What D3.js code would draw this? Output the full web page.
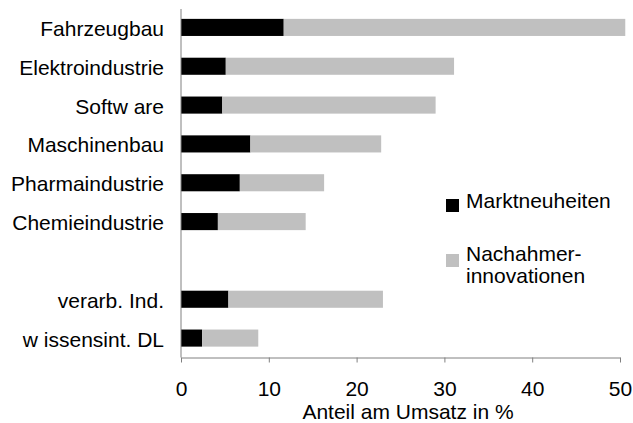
<!DOCTYPE html>
<html>
<head>
<meta charset="utf-8">
<script src="https://cdn.jsdelivr.net/npm/d3@7"></script>
<style>
  html, body { margin: 0; padding: 0; background: #fff; }
  svg { display: block; font-family: "Liberation Sans", Arial, sans-serif; }
</style>
</head>
<body>
<svg id="chart" width="633" height="423"></svg>
<script>
const categories = ["Fahrzeugbau", "Elektroindustrie", "Softw are", "Maschinenbau", "Pharmaindustrie", "Chemieindustrie", "", "verarb. Ind.", "w issensint. DL"];
const marktneuheiten = [11.7, 5.1, 4.7, 7.9, 6.7, 4.2, 0, 5.4, 2.4];
const nachahmer = [38.9, 26.0, 24.3, 14.9, 9.6, 10.0, 0, 17.6, 6.4];
const xTicks = [0, 10, 20, 30, 40, 50];
const seriesNames = ["Marktneuheiten", "Nachahmer-innovationen"];
const xTitle = "Anteil am Umsatz in %";

const svg = d3.select("#chart");
const mLeft = 181, mRight = 620, mTop = 8, mBottom = 357.5;
const fontSize = 21;

const x = d3.scaleLinear().domain([0, 50]).range([mLeft, mRight]);
const y = d3.scaleBand().domain(d3.range(categories.length)).range([mTop, mBottom]).paddingInner(0.56).paddingOuter(0.28);
const color = d3.scaleOrdinal().domain(seriesNames).range(["#000000", "#c0c0c0"]);

const rows = categories.map((c, i) => ({ i, m: marktneuheiten[i], n: nachahmer[i] }));
const stack = d3.stack().keys(["m", "n"])(rows);

svg.append("g").selectAll("g").data(stack).join("g")
  .attr("fill", (d, k) => color(seriesNames[k]))
  .selectAll("rect").data(d => d).join("rect")
  .attr("x", d => x(d[0]))
  .attr("width", d => x(d[1]) - x(d[0]))
  .attr("y", d => y(d.data.i))
  .attr("height", y.bandwidth());

// Category labels
svg.append("g").selectAll("text").data(categories).join("text")
  .attr("x", 164)
  .attr("y", (d, i) => y(i) + y.bandwidth() / 2 + 8.5)
  .attr("text-anchor", "end")
  .attr("font-size", fontSize)
  .attr("fill", "#000")
  .text(d => d);

// Axes
const xAxis = d3.axisBottom(x).tickValues(xTicks).tickSize(5).tickSizeOuter(0).tickFormat(d3.format("d"));
const gx = svg.append("g").attr("transform", `translate(0,${mBottom})`).call(xAxis);
gx.select(".domain").attr("stroke", "#808080");
gx.selectAll(".tick line").attr("stroke", "#808080");
gx.selectAll(".tick text").attr("font-size", fontSize).attr("font-family", "Liberation Sans, Arial, sans-serif").attr("fill", "#000").attr("dy", null).attr("y", 38.5);

svg.append("line").attr("x1", mLeft).attr("x2", mLeft).attr("y1", 9).attr("y2", mBottom).attr("stroke", "#808080");

svg.append("text").attr("x", 408).attr("y", 419).attr("text-anchor", "middle").attr("font-size", fontSize).text(xTitle);

// Legend
const lg = svg.append("g");
lg.append("rect").attr("x", 446).attr("y", 199).attr("width", 13).attr("height", 13).attr("fill", color(seriesNames[0]));
lg.append("text").attr("x", 466).attr("y", 207.5).attr("font-size", fontSize).text("Marktneuheiten");
lg.append("rect").attr("x", 446).attr("y", 254).attr("width", 13).attr("height", 13).attr("fill", color(seriesNames[1]));
const t2 = lg.append("text").attr("x", 466).attr("y", 261).attr("font-size", fontSize);
t2.append("tspan").attr("x", 466).text("Nachahmer-");
t2.append("tspan").attr("x", 466).attr("dy", 22).text("innovationen");
</script>
</body>
</html>
